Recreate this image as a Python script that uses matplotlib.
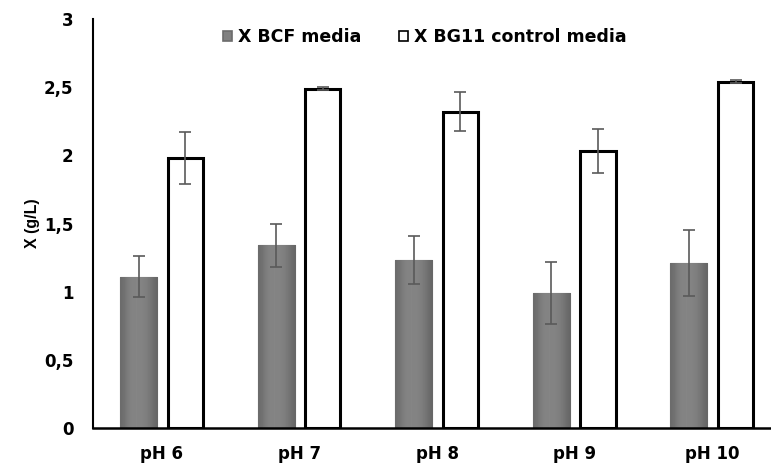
import numpy as np
import matplotlib.pyplot as plt
from matplotlib.ticker import FuncFormatter

# dados
categorias = ['pH 6', 'pH 7', 'pH 8', 'pH 9', 'pH 10']
x_bcf = [1.11, 1.34, 1.23, 0.99, 1.21]
err_bcf = [0.15, 0.16, 0.175, 0.23, 0.24]
x_bg11 = [1.98, 2.49, 2.32, 2.03, 2.54]
err_bg11 = [0.19, 0.008, 0.145, 0.16, 0.012]

fig = plt.figure(figsize=(7.71, 4.68), dpi=100)
ax = fig.add_axes([93/771, 1 - 428/468, 677/771, 409/468])

pos = np.arange(len(categorias))
larg = 0.27
desl = 0.17

# barras BCF (cinza com leve degradê)
barras = ax.bar(pos - desl, x_bcf, width=larg, color='#808080',
                edgecolor='#6c6c6c', linewidth=0.8, zorder=2,
                label='X BCF media')
grad = np.array([[0.42, 0.47, 0.51, 0.52, 0.52, 0.51, 0.49, 0.45, 0.40]])
for b in barras:
    x0, y0 = b.get_x(), b.get_y()
    w, h = b.get_width(), b.get_height()
    im = ax.imshow(grad, cmap='gray', vmin=0, vmax=1, aspect='auto',
                   extent=(x0, x0 + w, y0, y0 + h), zorder=2.1,
                   interpolation='bicubic')
    im.set_clip_path(b)
ax.errorbar(pos - desl, x_bcf, yerr=err_bcf, fmt='none', ecolor='#5a5a5a',
            elinewidth=1.2, capsize=4.3, capthick=1.2, zorder=3)

# barras BG11 (brancas com contorno preto)
ax.bar(pos + desl, x_bg11, width=0.255, color='white', edgecolor='black',
       linewidth=2.2, zorder=2, label='X BG11 control media')
ax.errorbar(pos + desl, x_bg11, yerr=err_bg11, fmt='none', ecolor='#5a5a5a',
            elinewidth=1.2, capsize=4.3, capthick=1.2, zorder=3)

ax.set_xlim(-0.501, 4.42)
ax.set_ylim(0, 3)
ax.set_yticks([0, 0.5, 1, 1.5, 2, 2.5, 3])
ax.yaxis.set_major_formatter(FuncFormatter(lambda v, p: ('%g' % v).replace('.', ',')))
ax.set_xticks(pos)
ax.set_xticklabels(categorias)

fonte = dict(family='DejaVu Sans', weight='bold', size=12)
for t in ax.get_yticklabels() + ax.get_xticklabels():
    t.set_fontproperties(fonte)
ax.tick_params(axis='both', length=0)
ax.tick_params(axis='y', pad=14)
ax.tick_params(axis='x', pad=12)

ax.set_ylabel('X (g/L)', fontfamily='Liberation Sans', fontweight='bold',
              fontsize=11.5, labelpad=3)

for lado in ['top', 'right']:
    ax.spines[lado].set_visible(False)
ax.spines['left'].set_linewidth(1.5)
ax.spines['bottom'].set_linewidth(1.8)
ax.spines['bottom'].set_zorder(4)

leg = fig.legend(loc='center', bbox_to_anchor=(0.551, 1 - 37/468), ncol=2,
                 frameon=False, prop=dict(family='DejaVu Sans', weight='bold', size=12.5),
                 handlelength=0.5, handleheight=0.5, handletextpad=0.35,
                 columnspacing=2.2)
for h in leg.legend_handles:
    h.set_linewidth(1.2)

fig.savefig('out.png', dpi=100)
